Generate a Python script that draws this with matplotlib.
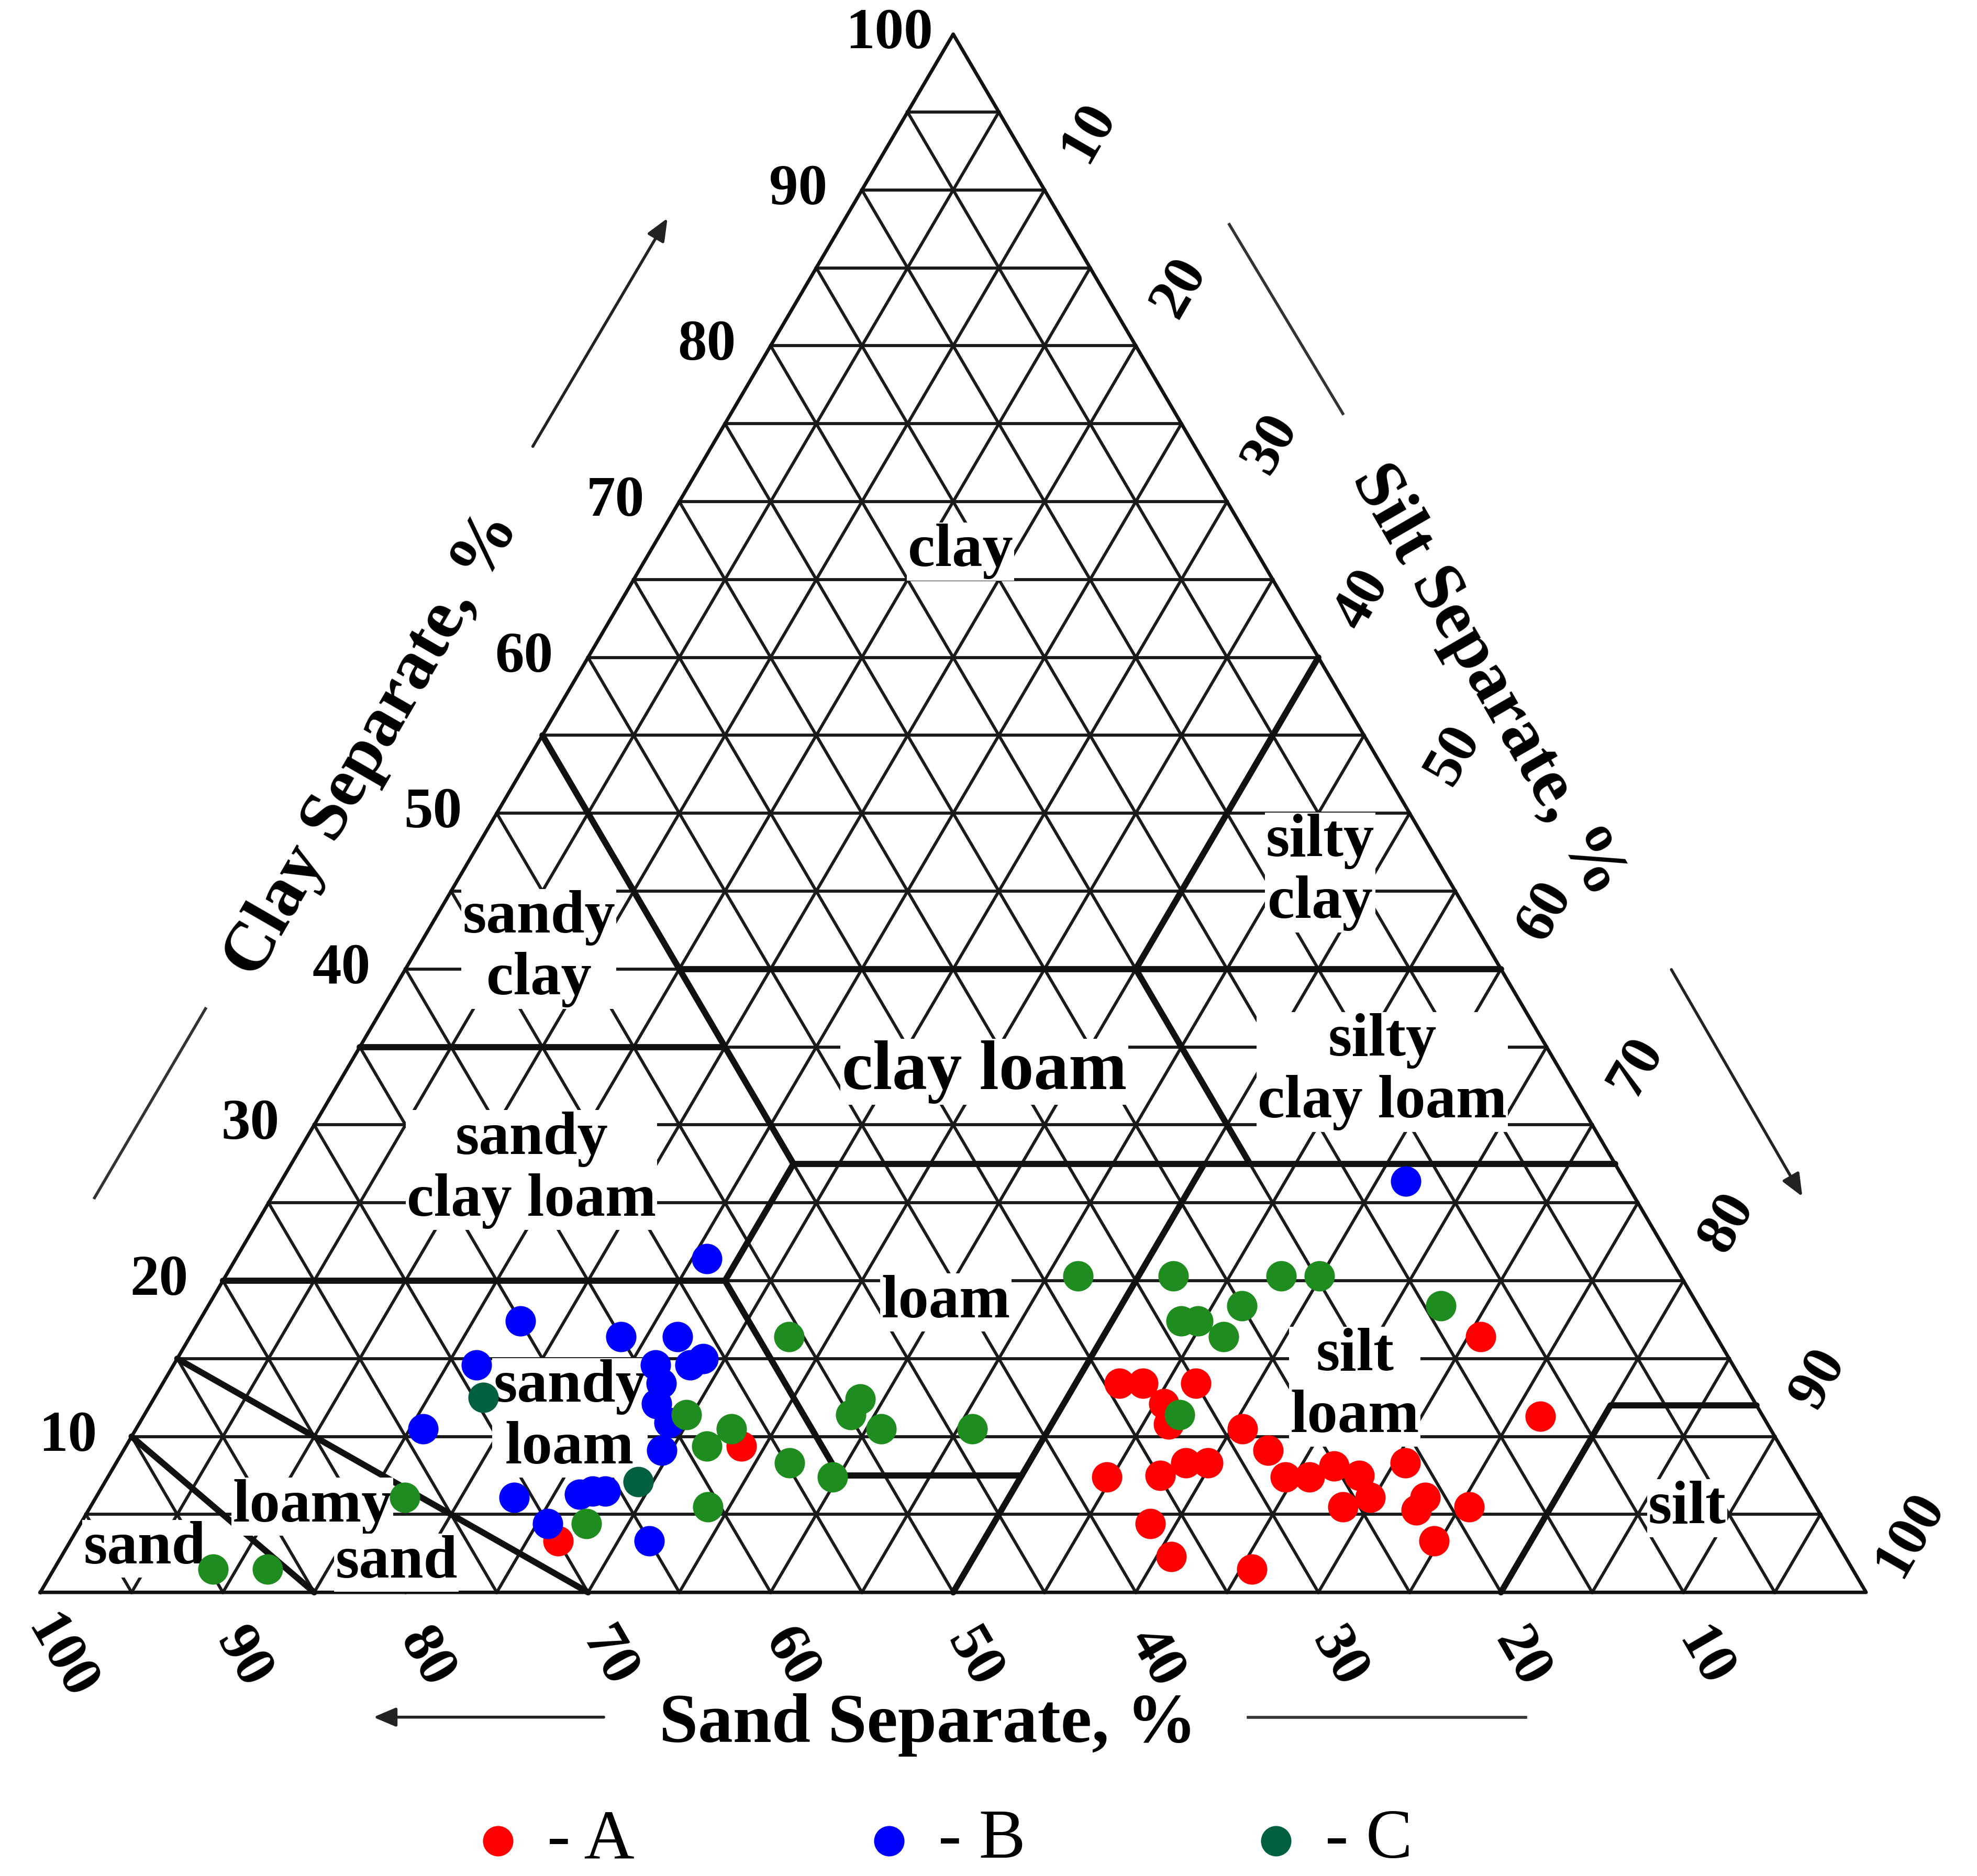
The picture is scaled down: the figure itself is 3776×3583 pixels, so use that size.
import numpy as np
import matplotlib
matplotlib.use("Agg")
import matplotlib.pyplot as plt

# Data: (clay %, silt %); sand = 100 - clay - silt
A_clay = [3.3, 9.4, 16.4, 11.3, 13.4, 13.4, 13.4, 12.1, 10.8, 10.5, 9.1, 8.3, 8.3, 7.5, 7.4, 7.4, 7.4, 8.1, 7.5, 6.1, 5.5, 8.3, 6.1, 5.3, 5.5, 3.3, 4.4, 2.3, 1.5]
A_silt = [26.7, 33.7, 70.7, 76.5, 52.4, 53.7, 56.6, 55.5, 56.4, 60.6, 62.7, 58.6, 59.8, 57.6, 54.7, 64.5, 65.8, 66.8, 68.5, 69.8, 68.6, 70.6, 72.8, 72.7, 75.5, 74.7, 58.6, 60.8, 65.6]
B_clay = [21.4, 26.4, 17.4, 16.4, 16.4, 15.0, 14.6, 14.6, 14.6, 13.4, 12.1, 10.5, 10.9, 9.1, 6.1, 6.3, 6.5, 4.4, 3.3, 6.5]
B_silt = [25.8, 61.6, 17.6, 23.6, 26.7, 28.8, 16.6, 26.4, 28.3, 27.3, 27.7, 15.7, 29.0, 29.5, 22.9, 26.4, 27.7, 25.6, 31.7, 27.0]
C_clay = [20.3, 20.3, 20.3, 20.3, 18.4, 18.4, 17.4, 17.4, 16.4, 16.4, 11.4, 10.5, 9.4, 12.4, 11.4, 10.5, 10.5, 11.4, 8.3, 7.4, 6.1, 4.4, 5.5, 1.5, 1.5]
C_silt = [46.7, 51.9, 57.8, 59.9, 56.6, 67.5, 53.8, 54.7, 56.6, 32.8, 29.7, 32.6, 31.8, 38.7, 38.7, 40.8, 45.8, 56.7, 36.9, 39.7, 16.9, 27.7, 33.8, 8.7, 11.7]
C2_clay = [12.5, 7.1]
C2_silt = [18.0, 29.2]

# Texture class boundaries as (clay, silt) polylines
boundaries = [
    [(0, 15), (10, 0)],
    [(0, 30), (15, 0)],
    [(20, 0), (20, 27.5), (7.5, 40), (7.5, 50)],
    [(35, 0), (35, 20)],
    [(55, 0), (27.5, 27.5), (20, 27.5)],
    [(27.5, 27.5), (27.5, 72.5)],
    [(40, 15), (40, 60)],
    [(40, 40), (60, 40)],
    [(40, 40), (27.5, 52.5)],
    [(0, 50), (27.5, 50)],
    [(0, 80), (12, 80), (12, 88)],
]
labels = [("clay", 50.4, 66.8), ("silty\nclay", 70.1, 46.2), ("sandy\nclay", 27.3, 41.3),
          ("silty\nclay loam", 73.5, 33.4), ("clay loam", 51.7, 33.4), ("sandy\nclay loam", 26.9, 27.1),
          ("loam", 49.6, 18.6), ("silt\nloam", 72.0, 13.2), ("sandy\nloam", 29.0, 11.2),
          ("loamy", 14.9, 5.5), ("sand", 19.5, 1.9), ("sand", 5.7, 2.8), ("silt", 90.2, 5.4)]
ticks = list(range(10, 101, 10))

def xy(clay, silt):
    clay = np.asarray(clay, float); silt = np.asarray(silt, float)
    return silt + clay / 2, clay

plt.rcParams['font.family'] = ['Liberation Serif', 'DejaVu Serif']
plt.rcParams['font.weight'] = 'bold'
fig = plt.figure(figsize=(37.76, 35.83), dpi=100)
ax = fig.add_axes([0.0204, 0.1512, 0.9235, 0.8306])
ax.set_xlim(0, 100); ax.set_ylim(0, 100); ax.axis('off')

# grid every 5
for v in np.arange(5, 100, 5):
    for p, q in [xy([v, v], [0, 100 - v]), xy([0, 100 - v], [v, v]), xy([0, 100 - v], [100 - v, 0])]:
        ax.plot(p, q, color='#1a1a1a', lw=4.2, clip_on=False)
p, q = xy([0, 0, 100, 0], [0, 100, 0, 0])
ax.plot(p, q, color='#111', lw=4.8, clip_on=False)
for b in boundaries:
    c, s = zip(*b)
    p, q = xy(c, s)
    ax.plot(p, q, color='#111', lw=8.5, clip_on=False, solid_capstyle='round')

for t, x, y in labels:
    fs = 96 if t == "clay loam" else 84
    ax.text(x, y, t, ha='center', va='center', fontsize=fs, fontweight='bold', linespacing=1.15,
            bbox=dict(facecolor='white', edgecolor='none', pad=2), zorder=5)

ms = 1750
for cl, si, col in [(A_clay, A_silt, '#ff0000'), (B_clay, B_silt, '#0000ff'),
                    (C_clay, C_silt, '#1e8c1e'), (C2_clay, C2_silt, '#006040')]:
    p, q = xy(cl, si)
    ax.scatter(p, q, s=ms, color=col, zorder=6, linewidths=0, clip_on=False)

tfs = 80
for v in ticks:
    x, y = xy(v, 0)
    ax.text(x - 3.5, y, str(v), ha='center', va='center', fontsize=tfs, fontweight='bold')
    x, y = xy(100 - v, v)
    ax.text(x + 2.4, y + 3.7, str(v), ha='center', va='center', fontsize=tfs, fontweight='bold', rotation=60)
    x, y = xy(0, 100 - v)
    ax.text(x + 1.1, y - 4.2, str(v), ha='center', va='center', fontsize=tfs, fontweight='bold', rotation=-60)

ax.text(18.2, 54.4, "Clay Separate, %", rotation=60, ha='center', va='center', fontsize=96, fontweight='bold')
ax.text(79.3, 58.5, "Silt Separate, %", rotation=-60, ha='center', va='center', fontsize=96, fontweight='bold')
ax.text(48.6, -8.5, "Sand Separate, %", ha='center', va='center', fontsize=96, fontweight='bold')

arr = dict(arrowstyle='-|>,head_length=2.6,head_width=1.1', color='#222', lw=4)
def d(X, Y):
    return ((X - 32) / 14.48, (1263 - Y) / 12.36)
ax.annotate('', xy=d(530, 172), xytext=d(422, 355), arrowprops=arr, annotation_clip=False)
ax.annotate('', xy=d(1430, 950), xytext=d(1325, 768), arrowprops=arr, annotation_clip=False)
ax.annotate('', xy=d(295, 1362), xytext=d(480, 1362), arrowprops=arr, annotation_clip=False)
for (a, b) in [((975, 178), (1065, 328)), ((163, 800), (75, 950)), ((990, 1362), (1210, 1362))]:
    p0, p1 = d(*a), d(*b)
    ax.plot([p0[0], p1[0]], [p0[1], p1[1]], color='#333', lw=4, clip_on=False)

for X, col, t in [(395, '#ff0000', '- A'), (705, '#0000ff', '- B'), (1012, '#006040', '- C')]:
    x, y = d(X, 1460)
    ax.scatter([x], [y], s=ms, color=col, clip_on=False, linewidths=0)
    ax.text(x + 2.7, y, t, ha='left', va='center', fontsize=96, fontweight='normal')

fig.savefig('out.png', dpi=100, facecolor='white')
